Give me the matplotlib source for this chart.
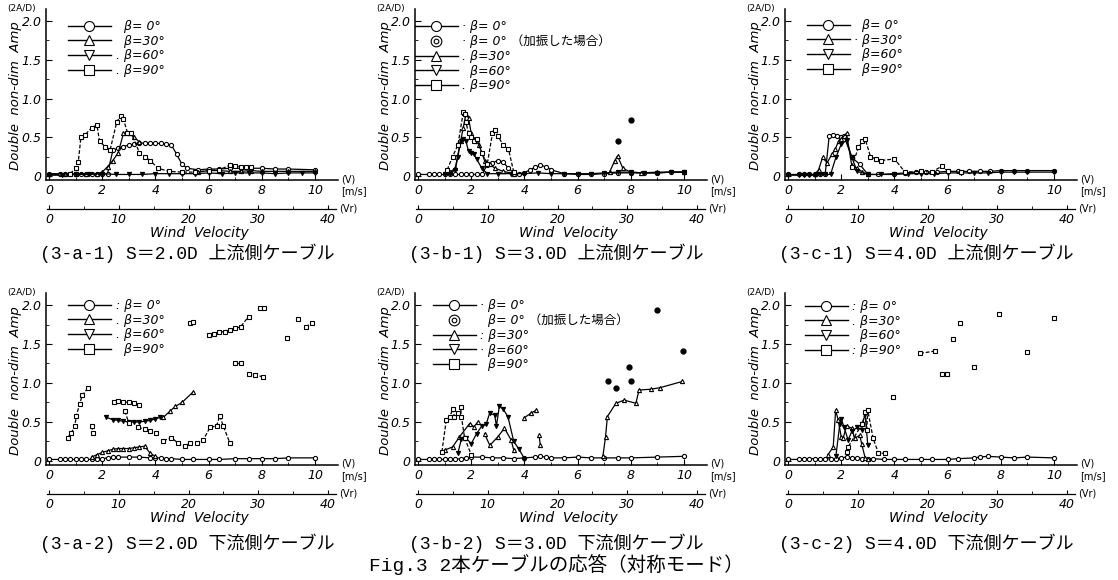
import matplotlib.pyplot as plt
from matplotlib.lines import Line2D
from matplotlib.legend_handler import HandlerTuple
from matplotlib.ticker import MultipleLocator

nan = float("nan")

# ---------------- data: wind velocity V [m/s] and double amplitude 2A/D ----------------
# (3-a-1) S=2.0D upstream
a1_v_b0 = [0, 0.4, 0.6, 0.8, 1.0, 1.2, 1.4, 1.6, 1.8, 2.0, 2.2, 2.4, 2.6, 2.8, 3.0, 3.2, 3.4, 3.6,
           3.8, 4.0, 4.2, 4.4, 4.6, 4.8, 5.0, 5.2, 5.6, 6.0, 6.4, 6.8, 7.2, 7.6, 8.0, 8.5, 9.0, 10.0]
a1_a_b0 = [0.02, 0.02, 0.02, 0.02, 0.02, 0.02, 0.02, 0.02, 0.02, 0.02, 0.03, 0.33, 0.36, 0.38, 0.40,
           0.41, 0.43, 0.42, 0.42, 0.42, 0.42, 0.41, 0.40, 0.28, 0.15, 0.10, 0.08, 0.09, 0.09, 0.10,
           0.10, 0.10, 0.10, 0.09, 0.09, 0.08]
a1_v_b30 = [0, 0.6, 1.0, 1.4, 1.8, 2.0, 2.2, 2.4, 2.6, 2.8, 3.0, 3.2, 3.4,
            nan, 5.6, 6.0, 6.4, 6.8, 7.2, 7.6, 8.0, 9.0, 10.0]
a1_a_b30 = [0.03, 0.03, 0.03, 0.03, 0.03, 0.05, 0.12, 0.20, 0.30, 0.55, 0.55, 0.50, 0.44,
            nan, 0.05, 0.07, 0.07, 0.06, 0.06, 0.07, 0.06, 0.06, 0.06]
a1_v_b60 = [0, 0.5, 1.0, 1.5, 2.0, 2.5, 3.0, 3.5, 4.0, 4.5, 5.0, 5.5, 6.0, 6.5, 7.0, 7.5, 8.0, 8.5,
            9.0, 9.5, 10.0]
a1_a_b60 = [0.01, 0.01, 0.02, 0.02, 0.03, 0.02, 0.02, 0.02, 0.03, 0.03, 0.03, 0.03, 0.04, 0.03,
            0.04, 0.04, 0.04, 0.03, 0.04, 0.04, 0.04]
a1_v_b90 = [0.8, 1.0, 1.1, 1.2, 1.35, 1.6, 1.8, 1.9, 2.1, 2.3, 2.55, 2.7, 2.8, 2.95, 3.1, 3.4, 3.6,
            3.8, 4.1, 4.5, 5.0, 5.5, 6.0, 6.4, 6.8, 7.0, 7.2, 7.4, 7.6]
a1_a_b90 = [0.03, 0.10, 0.18, 0.50, 0.53, 0.62, 0.66, 0.45, 0.38, 0.34, 0.70, 0.78, 0.73, 0.56, 0.55,
            0.30, 0.25, 0.20, 0.10, 0.06, 0.05, 0.05, 0.07, 0.08, 0.14, 0.13, 0.12, 0.11, 0.12]

# (3-b-1) S=3.0D upstream
b1_v_b0 = [0, 0.4, 0.6, 0.8, 1.0, 1.2, 1.4, 1.6, 1.8, 2.0, 2.2, 2.4, 2.6, 2.8, 3.0, 3.2, 3.4, 3.6,
           3.8, 4.0, 4.2, 4.4, 4.6, 4.8, 5.0, 5.5, 6.0, 6.5, 7.0, 7.5, 8.0, 8.5, 9.0, 9.5, 10.0]
b1_a_b0 = [0.02, 0.02, 0.02, 0.02, 0.02, 0.02, 0.02, 0.02, 0.02, 0.02, 0.02, 0.02, 0.14, 0.17, 0.20,
           0.18, 0.10, 0.04, 0.03, 0.04, 0.08, 0.11, 0.14, 0.12, 0.08, 0.03, 0.02, 0.02, 0.03, 0.04,
           0.04, 0.04, 0.04, 0.05, 0.05]
b1_v_exc = [7.5, 8.0]
b1_a_exc = [0.45, 0.72]
b1_v_b30 = [1.2, 1.4, 1.6, 1.7, 1.8, 1.9, 2.0, 2.1, 2.2, 2.3, 2.5, 2.7, 2.9, 3.2, 3.6,
            nan, 7.2, 7.4, 7.5, 7.7, 8.0, 8.4, 9.0, 10.0]
b1_a_b30 = [0.05, 0.10, 0.45, 0.62, 0.80, 0.75, 0.55, 0.48, 0.45, 0.40, 0.20, 0.15, 0.10, 0.06, 0.03,
            nan, 0.05, 0.20, 0.26, 0.10, 0.05, 0.04, 0.05, 0.05]
b1_v_b60 = [1.0, 1.2, 1.4, 1.5, 1.6, 1.7, 1.8, 1.9, 2.0, 2.1, 2.2, 2.4, 2.6, 3.0, 3.5, 4.0, 4.5, 5.0,
            5.5, 6.0, 6.5, 7.0, 7.5, 8.0, 8.5, 9.0, 9.5, 10.0]
b1_a_b60 = [0.02, 0.03, 0.08, 0.25, 0.45, 0.48, 0.45, 0.32, 0.30, 0.28, 0.22, 0.10, 0.03, 0.03, 0.03,
            0.03, 0.04, 0.03, 0.03, 0.03, 0.03, 0.04, 0.05, 0.05, 0.04, 0.04, 0.05, 0.05]
b1_v_b90 = [1.1, 1.3, 1.5, 1.7, 1.75, 1.8, 1.9, 2.0, 2.1, 2.2, 2.4, 2.6, 2.8, 2.9, 3.0, 3.2, 3.4, 3.6]
b1_a_b90 = [0.08, 0.25, 0.40, 0.82, 0.80, 0.70, 0.55, 0.50, 0.45, 0.48, 0.30, 0.15, 0.55, 0.60, 0.52,
            0.40, 0.35, 0.05]

# (3-c-1) S=4.0D upstream
c1_v_b0 = [0, 0.4, 0.6, 0.8, 1.0, 1.2, 1.4, 1.55, 1.7, 1.85, 2.0, 2.1, 2.4, 2.7, 3.0, 3.4, 4.0, 4.4,
           4.8, 5.2, 5.6, 6.0, 6.4, 6.8, 7.2, 7.6, 8.0, 8.5, 9.0, 10.0]
c1_a_b0 = [0.02, 0.02, 0.02, 0.02, 0.02, 0.02, 0.03, 0.52, 0.53, 0.52, 0.50, 0.52, 0.24, 0.15, 0.02,
           0.02, 0.03, 0.04, 0.05, 0.05, 0.05, 0.06, 0.06, 0.06, 0.06, 0.06, 0.07, 0.07, 0.07, 0.07]
c1_v_b30 = [1.0, 1.15, 1.3, 1.47, 1.65, 1.78, 1.9, 2.0, 2.2, 2.4, 2.6, 2.8, 3.0]
c1_a_b30 = [0.02, 0.08, 0.24, 0.17, 0.28, 0.35, 0.45, 0.48, 0.55, 0.13, 0.10, 0.05, 0.02]
c1_v_b60 = [0, 0.4, 0.6, 0.8, 1.0, 1.2, 1.4, 1.6, 1.8, 2.0, 2.2, 2.4, 2.6, 3.0, 3.5, 4.0, 4.5, 5.0,
            5.5, 6.0, 6.5, 7.0, 7.5, 8.0, 8.5, 9.0, 10.0]
c1_a_b60 = [0.01, 0.01, 0.01, 0.01, 0.01, 0.02, 0.02, 0.02, 0.24, 0.41, 0.46, 0.24, 0.06, 0.02, 0.02,
            0.02, 0.03, 0.03, 0.03, 0.04, 0.04, 0.04, 0.04, 0.05, 0.05, 0.05, 0.05]
c1_v_b90 = [2.4, 2.65, 2.8, 2.9, 3.1, 3.3, 3.5, 4.0, 4.4, 5.0, 5.4, 5.8, 6.0, 6.5]
c1_a_b90 = [0.12, 0.37, 0.45, 0.48, 0.25, 0.22, 0.20, 0.22, 0.05, 0.06, 0.05, 0.13, 0.06, 0.05]

# (3-a-2) S=2.0D downstream
a2_v_b0 = [0, 0.4, 0.6, 0.8, 1.0, 1.2, 1.4, 1.6, 1.8, 2.0, 2.2, 2.4, 2.6, 3.0, 3.4, 3.8, 4.0, 4.2,
           4.4, 4.6, 5.0, 5.4, 6.0, 6.4, 7.0, 7.5, 8.0, 8.5, 9.0, 10.0]
a2_a_b0 = [0.02, 0.02, 0.02, 0.02, 0.02, 0.02, 0.02, 0.02, 0.03, 0.03, 0.04, 0.05, 0.05, 0.05, 0.05,
           0.04, 0.04, 0.04, 0.03, 0.03, 0.02, 0.02, 0.02, 0.02, 0.03, 0.03, 0.03, 0.03, 0.04, 0.04]
a2_v_b30 = [1.6, 1.8, 2.0, 2.2, 2.4, 2.6, 2.8, 3.0, 3.2, 3.4, 3.6, 3.8, 4.0,
            nan, 4.3, 4.55, 4.75, 5.0, 5.4]
a2_a_b30 = [0.05, 0.08, 0.11, 0.13, 0.15, 0.16, 0.16, 0.16, 0.17, 0.18, 0.19, 0.10, 0.06,
            nan, 0.56, 0.64, 0.70, 0.75, 0.88]
a2_v_b60 = [2.15, 2.4, 2.6, 2.8, 3.0, 3.2, 3.4, 3.6, 3.8, 4.0, 4.17]
a2_a_b60 = [0.56, 0.53, 0.52, 0.51, 0.50, 0.50, 0.50, 0.51, 0.52, 0.54, 0.56]
a2_v_b90 = [0.7, 0.84, 0.97, 1.03, 1.15, 1.25, 1.45, nan, 1.6, 1.66, nan,
            2.45, 2.6, 2.8, 3.0, 3.2, 3.4, nan, 2.85, 3.0, nan,
            3.35, 3.6, 3.8, 4.04, nan, 4.3, 4.6, 4.85, 5.1, 5.3, nan,
            5.55, 5.8, 6.05, 6.3, 6.42, 6.55, 6.8, nan, 7.0, 7.2, nan,
            7.5, 7.75, 8.05, nan, 5.3, 5.4, nan,
            6.0, 6.2, 6.4, 6.6, 6.8, 7.0, 7.2, 7.5, nan, 7.95, 8.1, nan,
            8.95, nan, 9.35, nan, 9.65, 9.9]
a2_a_b90 = [0.30, 0.36, 0.45, 0.58, 0.73, 0.84, 0.93, nan, 0.45, 0.36, nan,
            0.75, 0.77, 0.76, 0.75, 0.74, 0.72, nan, 0.64, 0.49, nan,
            0.43, 0.41, 0.38, 0.36, nan, 0.26, 0.30, 0.23, 0.19, 0.23, nan,
            0.23, 0.27, 0.43, 0.45, 0.58, 0.45, 0.23, nan, 1.25, 1.25, nan,
            1.12, 1.10, 1.08, nan, 1.77, 1.78, nan,
            1.62, 1.63, 1.65, 1.66, 1.68, 1.70, 1.72, 1.85, nan, 1.96, 1.96, nan,
            1.58, nan, 1.82, nan, 1.72, 1.77]

# (3-b-2) S=3.0D downstream
b2_v_b0 = [0, 0.4, 0.6, 0.8, 1.0, 1.2, 1.4, 1.6, 1.8, 2.0, 2.4, 2.8, 3.2, 3.6, 4.0, 4.4, 4.6, 4.8,
           5.0, 5.5, 6.0, 6.5, 7.0, 7.5, 8.0, 9.0, 10.0]
b2_a_b0 = [0.02, 0.02, 0.02, 0.02, 0.02, 0.02, 0.02, 0.03, 0.04, 0.05, 0.05, 0.04, 0.04, 0.03, 0.04,
           0.05, 0.06, 0.05, 0.04, 0.04, 0.05, 0.04, 0.04, 0.04, 0.04, 0.05, 0.06]
b2_v_exc = [7.15, 7.45, 7.95, 8.0, 9.0, 9.95]
b2_a_exc = [1.03, 0.93, 1.21, 1.03, 1.93, 1.41]
b2_v_b30 = [1.0, 1.3, 1.56, 1.94, 2.1, 2.25, nan, 2.5, 2.7, 3.0, 3.25, 3.5, 3.6, nan,
            3.98, 4.23, 4.44, nan, 4.55, 4.6, nan,
            6.95, 7.05, 7.12, 7.44, 7.75, 8.19, 8.31, 8.75, 9.1, 9.94]
b2_a_b30 = [0.14, 0.18, 0.31, 0.48, 0.44, 0.50, nan, 0.35, 0.20, 0.31, 0.42, 0.27, 0.14, nan,
            0.55, 0.61, 0.65, nan, 0.33, 0.20, nan,
            0.06, 0.31, 0.57, 0.74, 0.78, 0.74, 0.91, 0.92, 0.94, 1.02]
b2_v_b60 = [1.5, 1.63, 1.8, 2.0, 2.2, 2.4, 2.56, 2.69, 2.88, 2.95, 3.06, 3.19, 3.38, 3.6, 3.8, 4.0]
b2_a_b60 = [0.10, 0.28, 0.30, 0.22, 0.35, 0.45, 0.47, 0.61, 0.59, 0.45, 0.71, 0.67, 0.57, 0.25,
            0.15, 0.03]
b2_v_b90 = [0.9, 1.06, 1.2, 1.31, 1.37, 1.5, 1.6, 1.63, 1.75, 2.0]
b2_a_b90 = [0.12, 0.52, 0.57, 0.67, 0.57, 0.61, 0.69, 0.57, 0.30, 0.08]

# (3-c-2) S=4.0D downstream
c2_v_b0 = [0, 0.4, 0.6, 0.8, 1.0, 1.2, 1.4, 1.6, 1.8, 2.0, 2.2, 2.4, 2.6, 2.8, 3.0, 3.2, 3.6, 4.0,
           4.4, 5.0, 5.4, 6.0, 6.4, 7.0, 7.2, 7.5, 8.0, 8.5, 9.0, 10.0]
c2_a_b0 = [0.02, 0.02, 0.02, 0.03, 0.03, 0.02, 0.02, 0.03, 0.03, 0.04, 0.05, 0.04, 0.04, 0.03, 0.03,
           0.03, 0.02, 0.02, 0.02, 0.02, 0.02, 0.02, 0.03, 0.04, 0.05, 0.06, 0.05, 0.04, 0.05, 0.04]
c2_v_b30 = [1.5, 1.7, 1.79, 1.89, 2.0, 2.08, 2.2, 2.4, 2.5, 2.7, 2.77, 2.9, 3.0]
c2_a_b30 = [0.08, 0.18, 0.65, 0.52, 0.31, 0.30, 0.45, 0.42, 0.29, 0.33, 0.22, 0.04, 0.02]
c2_v_b60 = [1.8, 1.95, 2.0, 2.1, 2.26, 2.4, 2.6, 2.77, 2.8, 2.9, 3.0]
c2_a_b60 = [0.06, 0.48, 0.54, 0.44, 0.27, 0.38, 0.43, 0.40, 0.48, 0.60, 0.20]
c2_v_b90 = [2.2, 2.26, 2.8, 2.9, 2.96, 3.0, 3.2, 3.4, 3.65, nan, 3.96, nan, 4.97, 5.53, nan,
            5.79, 5.97, nan, 6.2, nan, 6.48, nan, 6.98, nan, 7.92, nan, 9.0, nan, 10.0]
c2_a_b90 = [0.12, 0.18, 0.48, 0.63, 0.40, 0.65, 0.29, 0.10, 0.10, nan, 0.82, nan, 1.38, 1.41, nan,
            1.12, 1.12, nan, 1.57, nan, 1.77, nan, 1.21, nan, 1.88, nan, 1.40, nan, 1.83]

# legend texts
lab_a1 = ["  β= 0°", "  β=30°", ". β=60°", ". β=90°"]
lab_b1 = ["· β= 0°", "· β= 0° （加振した場合）", ". β=30°", "  β=60°", ". β=90°"]
lab_c1 = ["  β= 0°", "· β=30°", "  β=60°", "  β=90°"]
lab_a2 = [": β= 0°", ". β=30°", ". β=60°", "  β=90°"]
lab_b2 = ["· β= 0°", "  β= 0° （加振した場合）", ": β=30°", "· β=60°", "  β=90°"]
lab_c2 = [": β= 0°", ". β=30°", "  β=60°", ": β=90°"]

captions = ["(3-a-1) S＝2.0D 上流側ケーブル", "(3-b-1) S＝3.0D 上流側ケーブル",
            "(3-c-1) S＝4.0D 上流側ケーブル", "(3-a-2) S＝2.0D 下流側ケーブル",
            "(3-b-2) S＝3.0D 下流側ケーブル", "(3-c-2) S＝4.0D 下流側ケーブル"]

# ---------------- layout (pixels) ----------------
W, H = 1118, 580
PX = 26.6                 # px per m/s
fig = plt.figure(figsize=(W / 100, H / 100), dpi=100)
fig.patch.set_facecolor("white")

cap_font = ["Liberation Mono", "Noto Sans CJK JP"]
leg_font = {"family": ["DejaVu Sans", "Noto Sans CJK JP"], "size": 9, "style": "italic"}


def ftext(x, y, s, **kw):
    fig.text(x / W, 1 - y / H, s, **kw)


def panel(x0, y0, py, series, exc, labels, leg_xy, caption, cap_dy):
    left, right = x0 - 0.12 * PX, x0 + 10.85 * PX
    top, bottom = y0 - 2.15 * py, y0 + 0.05 * py
    ax = fig.add_axes([left / W, 1 - bottom / H, (right - left) / W, (bottom - top) / H])
    ax.set_xlim(-0.12, 10.85)
    ax.set_ylim(-0.05, 2.15)
    ax.patch.set_visible(False)
    for s in ("top", "right"):
        ax.spines[s].set_visible(False)
    for s in ("left", "bottom"):
        ax.spines[s].set_linewidth(1.1)
    ax.set_xticks([0, 2, 4, 6, 8, 10])
    ax.set_xticklabels(["0", "2", "4", "6", "8", "10"], fontstyle="italic", fontsize=9)
    ax.set_yticks([0, 0.5, 1.0, 1.5, 2.0])
    ax.set_yticklabels(["0", "0.5", "1.0", "1.5", "2.0"], fontstyle="italic", fontsize=9)
    ax.xaxis.set_minor_locator(MultipleLocator(1))
    ax.yaxis.set_minor_locator(MultipleLocator(0.25))
    ax.tick_params(which="major", direction="in", length=4, width=0.8, pad=3)
    ax.tick_params(which="minor", direction="in", length=2, width=0.6)

    markers = ["o", "^", "v", "s"]
    styles = ["-", "-", "-", (0, (3, 1.5))]
    faces = ["white", "white", "k", "white"]
    for (v, a), m, ls, fc in zip(series, markers, styles, faces):
        ax.plot(v, a, color="k", lw=0.9, ls=ls, marker=m, ms=3, mfc=fc, mec="k", mew=0.8)
    if exc is not None:
        ax.plot(exc[0], exc[1], ls="none", marker="o", ms=3.5, mfc="k", mec="k")

    # legend
    hs = []
    for m in markers:
        hs.append(Line2D([], [], color="k", lw=1.0, marker=m, ms=3, mfc="white", mec="k", mew=0.8))
    if exc is not None:
        ring = (Line2D([], [], ls="none", marker="o", ms=3.2, mfc="white", mec="k", mew=0.8),
                Line2D([], [], ls="none", marker="o", ms=1.4, mfc="white", mec="k", mew=0.8))
        hs.insert(1, ring)
    lx, ly = leg_xy
    bx = (lx - left) / (right - left)
    by = (bottom - ly) / (bottom - top)
    ax.legend(hs, labels, loc="upper left", bbox_to_anchor=(bx, by), frameon=False,
              borderpad=0, borderaxespad=0, handlelength=3.4, handletextpad=0.4,
              labelspacing=0.13, numpoints=1, markerscale=2.4, prop=leg_font,
              handler_map={tuple: HandlerTuple(ndivide=1)})

    # second axis (reduced velocity)
    yv = y0 + 33
    vl, vr = x0 - 2, x0 + 41.1 * 6.975
    axv = fig.add_axes([vl / W, 1 - yv / H, (vr - vl) / W, 0.0005])
    axv.set_xlim(-0.3, 41.1)
    axv.patch.set_visible(False)
    for s in ("top", "right", "left"):
        axv.spines[s].set_visible(False)
    axv.spines["bottom"].set_linewidth(0.9)
    axv.set_yticks([])
    axv.set_xticks([0, 10, 20, 30, 40])
    axv.set_xticklabels(["0", "10", "20", "30", "40"], fontstyle="italic", fontsize=9)
    axv.xaxis.set_minor_locator(MultipleLocator(5))
    axv.tick_params(which="major", direction="in", length=3, width=0.8, pad=3)
    axv.tick_params(which="minor", direction="in", length=2, width=0.6)

    # annotations
    ftext(x0 + 292, y0 + 3, "(V)", fontsize=7, ha="left", va="center")
    ftext(x0 + 292, y0 + 15, "[m/s]", fontsize=7, ha="left", va="center")
    ftext(x0 + 290, yv - 1, "(Vr)", fontsize=7, ha="left", va="center")
    ftext(x0 + 150, yv + 24, "Wind  Velocity", fontsize=10, fontstyle="italic", ha="center", va="center")
    ftext(x0 - 33, y0 - 80, "Double  non-dim  Amp", fontsize=9.5, fontstyle="italic",
          rotation=90, ha="center", va="center")
    ftext(x0 - 27, y0 - 2.15 * py - 1, "(2A/D)", fontsize=6.5, ha="center", va="center")
    ftext(x0 + 138, y0 + cap_dy, caption, family=cap_font, fontsize=13, ha="center", va="center")


panel(49, 176, 77.5, [(a1_v_b0, a1_a_b0), (a1_v_b30, a1_a_b30), (a1_v_b60, a1_a_b60), (a1_v_b90, a1_a_b90)],
      None, lab_a1, (68, 20), captions[0], 77)
panel(418, 176, 77.5, [(b1_v_b0, b1_a_b0), (b1_v_b30, b1_a_b30), (b1_v_b60, b1_a_b60), (b1_v_b90, b1_a_b90)],
      (b1_v_exc, b1_a_exc), lab_b1, (415, 20), captions[1], 77)
panel(788, 176, 77.5, [(c1_v_b0, c1_a_b0), (c1_v_b30, c1_a_b30), (c1_v_b60, c1_a_b60), (c1_v_b90, c1_a_b90)],
      None, lab_c1, (807, 19), captions[2], 77)
panel(49, 461, 78, [(a2_v_b0, a2_a_b0), (a2_v_b30, a2_a_b30), (a2_v_b60, a2_a_b60), (a2_v_b90, a2_a_b90)],
      None, lab_a2, (68, 299), captions[3], 82)
panel(418, 461, 78, [(b2_v_b0, b2_a_b0), (b2_v_b30, b2_a_b30), (b2_v_b60, b2_a_b60), (b2_v_b90, b2_a_b90)],
      (b2_v_exc, b2_a_exc), lab_b2, (433, 299), captions[4], 82)
panel(788, 461, 78, [(c2_v_b0, c2_a_b0), (c2_v_b30, c2_a_b30), (c2_v_b60, c2_a_b60), (c2_v_b90, c2_a_b90)],
      None, lab_c2, (805, 300), captions[5], 82)

ftext(556, 565, "Fig.3 2本ケーブルの応答（対称モード）", family=cap_font, fontsize=14,
      ha="center", va="center")

fig.savefig("out.png", dpi=100)
